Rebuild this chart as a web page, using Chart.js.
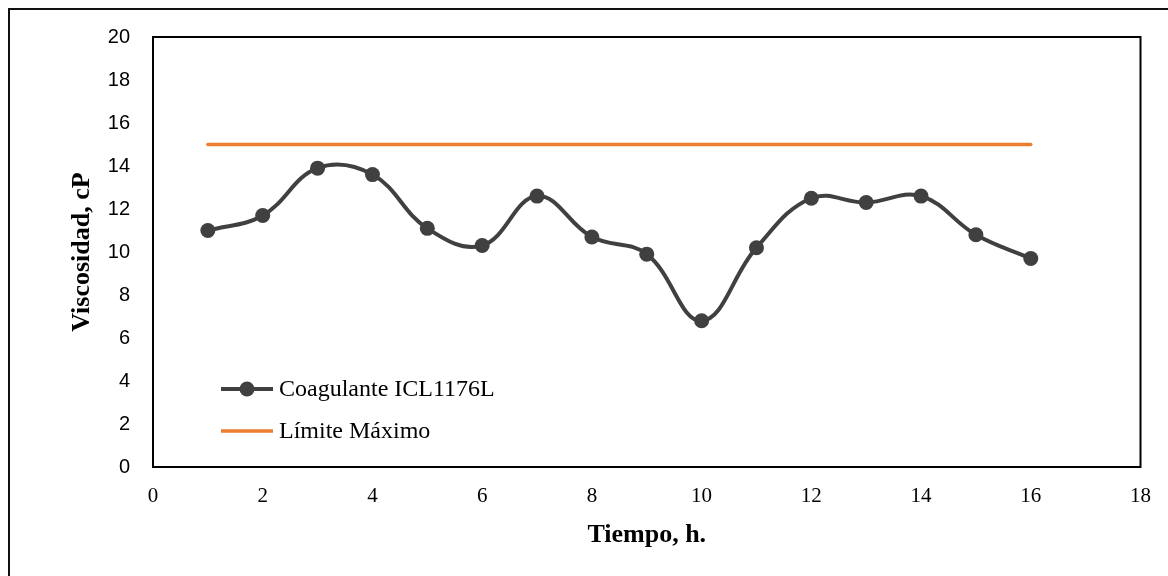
<!DOCTYPE html>
<html>
<head>
<meta charset="utf-8">
<script src="https://cdn.jsdelivr.net/npm/chart.js@4.4.1/dist/chart.umd.min.js"></script>
<style>
  html, body { margin: 0; padding: 0; background: #fff; }
  #wrap { width: 1168px; height: 576px; }
</style>
</head>
<body>
<div id="wrap"><canvas id="viscChart" width="1168" height="576"></canvas></div>
<script>
const horas = [1, 2, 3, 4, 5, 6, 7, 8, 9, 10, 11, 12, 13, 14, 15, 16];
const viscosidad = [11.0, 11.7, 13.9, 13.6, 11.1, 10.3, 12.6, 10.7, 9.9, 6.8, 10.2, 12.5, 12.3, 12.6, 10.8, 9.7];
const limiteX = [1, 16];
const limiteY = [15, 15];

const serif = '"Liberation Serif", "Times New Roman", serif';
const sans = '"Liberation Sans", Arial, sans-serif';

// marco exterior y caja del área de trazado
const framePlugin = {
  id: 'frame',
  beforeDraw(chart) {
    const ctx = chart.ctx;
    ctx.save();
    ctx.strokeStyle = '#111';
    ctx.lineWidth = 2;
    ctx.beginPath();
    ctx.moveTo(9, 576);
    ctx.lineTo(9, 9);
    ctx.lineTo(1168, 9);
    ctx.stroke();
    ctx.restore();
  },
  afterDraw(chart) {
    const { ctx, chartArea: a } = chart;
    ctx.save();
    ctx.strokeStyle = '#000';
    ctx.lineWidth = 2;
    ctx.strokeRect(a.left, a.top, a.right - a.left, a.bottom - a.top);
    ctx.restore();
  }
};

// leyenda dentro del área de trazado, abajo a la izquierda
const insideLegend = {
  id: 'insideLegend',
  afterDraw(chart) {
    const ctx = chart.ctx;
    const rows = [389, 431];
    ctx.save();
    chart.data.datasets.forEach((ds, i) => {
      const y = rows[i];
      ctx.strokeStyle = ds.borderColor;
      ctx.lineWidth = ds.borderWidth;
      ctx.beginPath();
      ctx.moveTo(221, y);
      ctx.lineTo(273, y);
      ctx.stroke();
      if (ds.pointRadius > 0) {
        ctx.fillStyle = ds.pointBackgroundColor;
        ctx.beginPath();
        ctx.arc(247, y, ds.pointRadius, 0, Math.PI * 2);
        ctx.fill();
      }
      ctx.fillStyle = '#000';
      ctx.font = '24px ' + serif;
      ctx.textBaseline = 'middle';
      ctx.textAlign = 'left';
      ctx.fillText(ds.label, 279, y + 1);
    });
    ctx.restore();
  }
};

const ctx = document.getElementById('viscChart').getContext('2d');
new Chart(ctx, {
  type: 'scatter',
  data: {
    datasets: [
      {
        label: 'Coagulante ICL1176L',
        data: horas.map((h, i) => ({ x: h, y: viscosidad[i] })),
        showLine: true,
        tension: 0.4,
        borderColor: '#404040',
        borderWidth: 4,
        pointRadius: 7.5,
        pointBackgroundColor: '#404040',
        pointBorderColor: '#404040',
        pointBorderWidth: 0,
      },
      {
        label: 'Límite Máximo',
        data: limiteX.map((h, i) => ({ x: h, y: limiteY[i] })),
        showLine: true,
        borderColor: '#ED7D31',
        borderWidth: 3.5,
        borderCapStyle: 'round',
        pointRadius: 0,
      },
    ],
  },
  options: {
    responsive: false,
    animation: false,
    layout: { padding: { left: 50, top: 37, right: 27, bottom: 0 } },
    plugins: {
      legend: { display: false },
      tooltip: { enabled: false },
    },
    scales: {
      x: {
        type: 'linear',
        min: 0,
        max: 18,
        ticks: { stepSize: 2, color: '#000', padding: 17, font: { family: serif, size: 21 } },
        grid: { display: false, drawTicks: false },
        border: { display: false },
        title: {
          display: true,
          text: 'Tiempo, h.',
          color: '#000',
          font: { family: serif, size: 26, weight: 'bold' },
          padding: { top: 0, bottom: 25 },
        },
        afterFit(scale) { scale.height = 109; },
      },
      y: {
        min: 0,
        max: 20,
        ticks: { stepSize: 2, color: '#000', padding: 23, font: { family: sans, size: 20 } },
        grid: { display: false, drawTicks: false },
        border: { display: false },
        title: {
          display: true,
          text: 'Viscosidad, cP',
          color: '#000',
          font: { family: serif, size: 26, weight: 'bold' },
          padding: { top: 17, bottom: 0 },
        },
        afterFit(scale) { scale.width = 103; },
      },
    },
  },
  plugins: [framePlugin, insideLegend],
});
</script>
</body>
</html>
